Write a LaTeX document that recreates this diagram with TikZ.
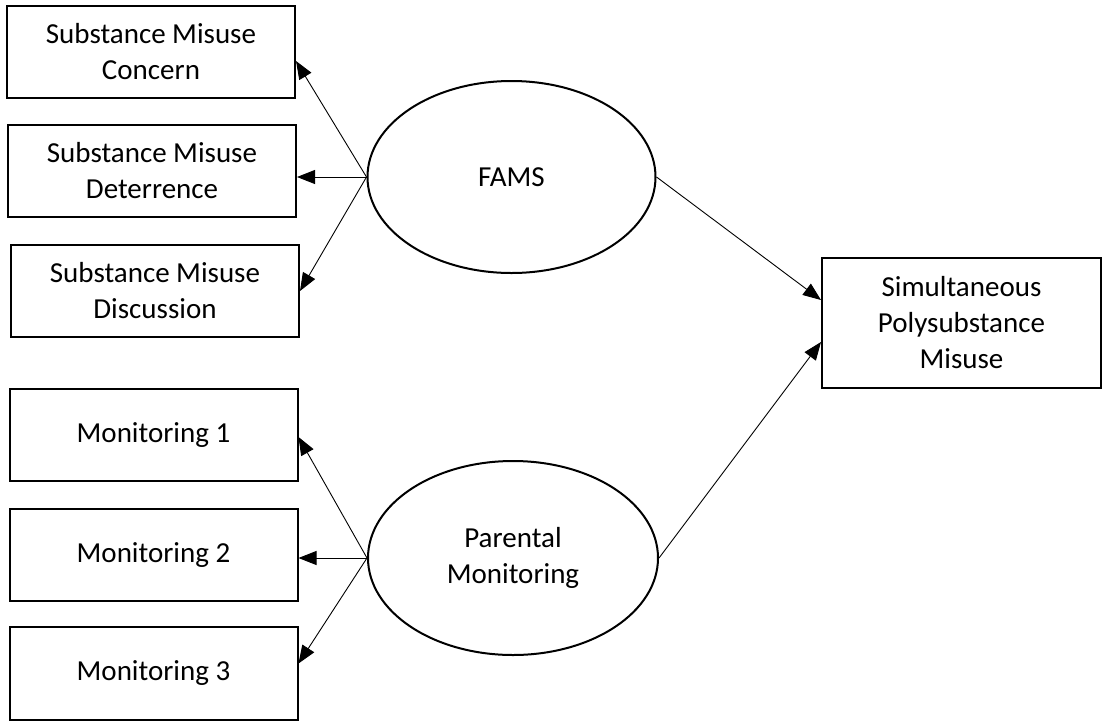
\documentclass[tikz,border=0pt]{standalone}
\usepackage{fontspec}
\setmainfont{Carlito}
\usetikzlibrary{arrows.meta,calc,shapes.geometric}
\begin{document}
\begin{tikzpicture}[x=1pt,y=-1pt,
  every node/.style={font=\fontsize{29}{36}\selectfont, align=center, inner sep=0pt},
  obs/.style={draw, line width=2pt, minimum width=288pt, minimum height=92pt},
  lat/.style={draw, ellipse, line width=2pt, minimum width=288pt, minimum height=192pt},
  arr/.style={line width=0.9pt, -{Triangle[length=18pt,width=14pt]}}]
\useasboundingbox (0,0) rectangle (1104,721);
\node[obs] (b1) at (151,52) {Substance Misuse\\Concern};
\node[obs] (b2) at (152,171) {Substance Misuse\\Deterrence};
\node[obs] (b3) at (155,291) {Substance Misuse\\Discussion};
\node[obs] (m1) at (153.5,435) {Monitoring 1};
\node[obs] (m2) at (153.5,555) {Monitoring 2};
\node[obs, minimum height=93pt] (m3) at (153.5,673.5) {Monitoring 3};
\node[obs, minimum width=279pt, minimum height=130pt] (out) at (961.5,323) {Simultaneous\\Polysubstance\\Misuse};
\node[lat] (fams) at (511.5,177) {FAMS};
\node[lat, minimum width=290pt, minimum height=194pt] (pm) at (513,558) {Parental\\Monitoring};
\draw[arr] (fams.west) -- ($(b1.east)+(0,9)$);
\draw[arr] (fams.west) -- (fams.west -| b2.east);
\draw[arr] (fams.west) -- (b3.east);
\draw[arr] (pm.west) -- ($(m1.east)+(0,2)$);
\draw[arr] (pm.west) -- (pm.west -| m2.east);
\draw[arr] (pm.west) -- ($(m3.east)+(0,-10)$);
\draw[arr] (fams.east) -- ($(out.west)+(0,-23)$);
\draw[arr] (pm.east) -- ($(out.west)+(0,19)$);
\end{tikzpicture}
\end{document}
